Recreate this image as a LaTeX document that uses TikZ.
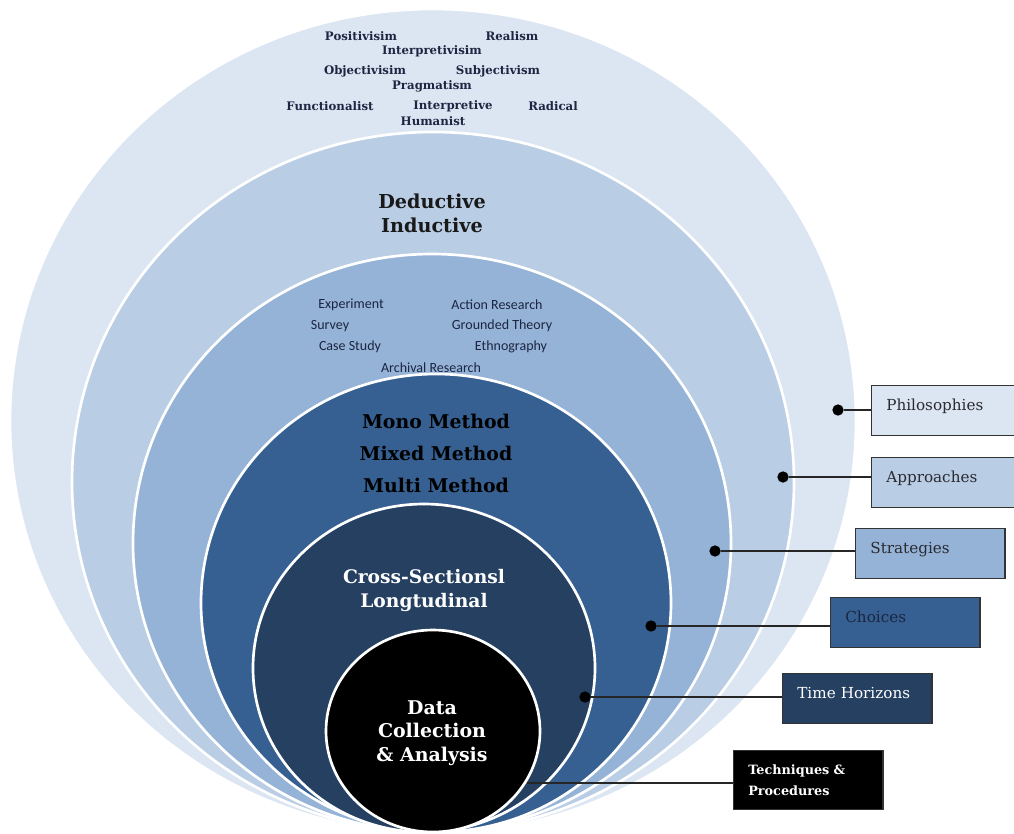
\documentclass[tikz,border=0pt]{standalone}
\usepackage{fontspec}
\setmainfont{DejaVu Serif}
\newfontfamily\calibri{Carlito}
\usetikzlibrary{positioning}

\definecolor{onionA}{HTML}{DCE6F2}
\definecolor{onionB}{HTML}{B9CDE5}
\definecolor{onionC}{HTML}{95B3D7}
\definecolor{onionD}{HTML}{366092}
\definecolor{onionE}{HTML}{254061}
\definecolor{inkblue}{HTML}{1C2541}
\definecolor{labelgray}{HTML}{2A2A30}

\begin{document}
\begin{tikzpicture}[x=0.75pt, y=-0.75pt,
    layer/.style={draw=white, line width=2pt},
    tag/.style={rectangle, draw=black!80, line width=1pt, anchor=north west, text width=90pt, align=left, inner xsep=11pt, inner ysep=0pt, text height=18.75pt, text depth=18.75pt, font=\fontsize{11.4}{13}\selectfont, text=labelgray},
    pin/.style={circle, fill=black, inner sep=0pt, minimum size=8.5pt},
    link/.style={line width=1.5pt, black!85},
    philo/.style={font=\fontsize{8.8}{10}\selectfont\bfseries, text=inkblue},
    strat/.style={font=\calibri\fontsize{10.5}{12}\selectfont, text=inkblue},
    core/.style={font=\fontsize{14.4}{18}\selectfont\bfseries, align=center}]

  \useasboundingbox (0,0) rectangle (1014,833);

  % philosophies
  \filldraw[layer, fill=onionA] (433,421) ellipse [x radius=423, y radius=412];
  \node[philo] (positivism) at (361,36) {Positivisim};
  \node[philo] (realism) at (512,36) {Realism};
  \node[philo] (interpretivism) at (432,51) {Interpretivisim};
  \node[philo] (objectivism) at (365,71) {Objectivisim};
  \node[philo] (subjectivism) at (498,71) {Subjectivism};
  \node[philo] (pragmatism) at (432,86) {Pragmatism};
  \node[philo] (functionalist) at (330,106) {Functionalist};
  \node[philo] (interpretive) at (453,106) {Interpretive};
  \node[philo] (radical) at (553,106) {Radical};
  \node[philo] (humanist) at (433,121) {Humanist};

  % approaches
  \filldraw[layer, fill=onionB] (433,482) ellipse [x radius=361, y radius=350];
  \node[core, text=black!90] (approach) at (432,213) {Deductive\\Inductive};

  % strategies
  \filldraw[layer, fill=onionC] (432,543) ellipse [x radius=299, y radius=289];
  \node[strat] (experiment) at (351,305) {Experiment};
  \node[strat] (action) at (497,305) {Action Research};
  \node[strat] (survey) at (330,326) {Survey};
  \node[strat] (grounded) at (502,326) {Grounded Theory};
  \node[strat] (casestudy) at (350,347) {Case Study};
  \node[strat] (ethnography) at (511,347) {Ethnography};
  \node[strat] (archival) at (431,368) {Archival Research};

  % choices
  \filldraw[layer, fill=onionD] (436,603) ellipse [x radius=235, y radius=229];
  \node[core, text=black, font=\fontsize{14.2}{24}\selectfont\bfseries] (choice) at (436,453) {Mono Method\\Mixed Method\\Multi Method};

  % time horizons
  \filldraw[layer, fill=onionE] (424,668) ellipse [x radius=171, y radius=164];
  \node[core, text=white, font=\fontsize{14}{18}\selectfont\bfseries] (horizon) at (424,590) {Cross-Sectionsl\\Longtudinal};

  % techniques
  \filldraw[layer, fill=black] (433,731) ellipse [x radius=107, y radius=101];
  \node[core, text=white, font=\fontsize{14.2}{17.6}\selectfont\bfseries] (technique) at (432,733) {Data\\Collection\\\& Analysis};

  % callouts
  \node[tag, fill=onionA] (philobox) at (871,385) {Philosophies};
  \node[tag, fill=onionB] (approachbox) at (871,457) {Approaches};
  \node[tag, fill=onionC] (strategybox) at (855,528) {Strategies};
  \node[tag, fill=onionD, text=inkblue] (choicebox) at (830,597) {Choices};
  \node[tag, fill=onionE, text=white] (horizonbox) at (782,673) {Time Horizons};
  \node[tag, fill=black, text=white, text height=18pt, text depth=26.25pt, font=\fontsize{9.6}{15.75}\selectfont\bfseries] (techniquebox) at (733,750) {Techniques \&\\Procedures};

  \node[pin] (philodot) at (838,410) {};
  \node[pin] (approachdot) at (783,477) {};
  \node[pin] (strategydot) at (715,551) {};
  \node[pin] (choicedot) at (651,626) {};
  \node[pin] (horizondot) at (585,697) {};
  \coordinate (techniqueend) at (527,783);

  \draw[link] (philodot) -- (philodot -| philobox.west);
  \draw[link] (approachdot) -- (approachdot -| approachbox.west);
  \draw[link] (strategydot) -- (strategydot -| strategybox.west);
  \draw[link] (choicedot) -- (choicedot -| choicebox.west);
  \draw[link] (horizondot) -- (horizondot -| horizonbox.west);
  \draw[link] (techniqueend) -- (techniqueend -| techniquebox.west);
\end{tikzpicture}
\end{document}
